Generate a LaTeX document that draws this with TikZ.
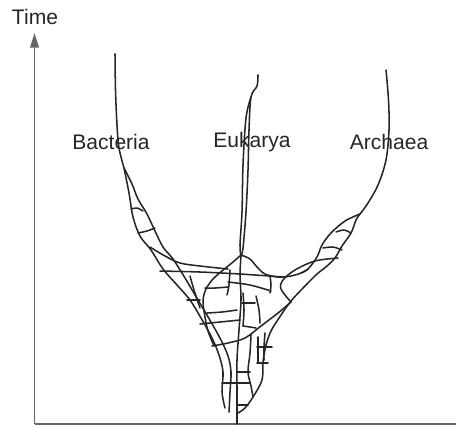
\documentclass[tikz,border=0pt]{standalone}
\usepackage{fontspec}
\setmainfont{Liberation Sans}
\usetikzlibrary{arrows.meta}
\definecolor{ink}{HTML}{262626}
\definecolor{axisgray}{HTML}{666666}
\tikzset{
  ln/.style={draw=ink,line width=1.15pt,line cap=round,line join=round},
  axisline/.style={draw=axisgray,line width=1.3pt},
  lbl/.style={text=ink,font=\fontsize{15.8}{18}\selectfont,inner sep=0pt},
}
\newcommand{\sk}[1]{\draw[ln] plot[smooth,tension=0.55] coordinates {#1};}
\begin{document}
\begin{tikzpicture}[x=0.75pt,y=-0.75pt]
\useasboundingbox (0,0) rectangle (456,426);
% axes
\coordinate (orig) at (34.5,424);
\coordinate (ttop) at (34.5,33);
\coordinate (xend) at (456,424);
\draw[axisline,-{Stealth[length=11pt,width=6.5pt,inset=0pt]}] (orig) -- (ttop);
\draw[axisline] (orig) -- (xend);
% labels
\node[lbl] (time) at (35,17) {Time};
\node[lbl] (bac) at (111,142) {Bacteria};
\node[lbl] (euk) at (252,142) {Eukarya};
\node[lbl] (arc) at (389,142) {Archaea};
% Bacteria stem and braid
\sk{(115,54) (115.5,90) (117,125) (119,148) (124,168)}
\sk{(124,168) (129,193) (133,217) (140,236) (151,250) (163,269) (177,285) (190,300) (201,318) (212,338) (219,355) (223,372) (222,392) (225,408)}
\sk{(124,168) (132,184) (138,199) (147,214) (155,231) (163,247) (173,259) (185,278) (198,300) (211,322) (221,340) (228,356) (231,372) (230,392) (229,412)}
\sk{(131,209) (137,208) (143,211)}
\sk{(138,233) (147,231) (155,228)}
% top line across
\sk{(150,247) (165,256) (180,263) (200,266) (228,269)}
\sk{(160,271) (200,272) (240,274) (283,277)}
% Eukarya stem
\sk{(258,75) (257,86) (251,97) (249,130) (248,170) (246,212) (243,248) (241,256)}
\sk{(251,97) (246,118) (243,165) (242,212) (240,245) (241,256)}
% branches from peak
\sk{(241,255) (233,262) (222,271) (213,279) (206,289) (203,301) (205,317) (208,331) (214,346)}
\sk{(241,255) (250,259) (257,267) (265,274) (278,277) (291,276) (301,273) (308,269)}
\sk{(241,256) (240,275) (241,300) (239,330) (237,360) (237,390) (237,424)}
% Archaea stem and braid
\sk{(386,70) (388.5,100) (389,130) (386,160) (378,185) (368,203) (360,214)}
\sk{(360,214) (345,221) (331,233) (322,245) (317,257) (308,269) (301,273)}
\sk{(360,214) (356,220) (351,233) (342,246) (335,258) (327,266) (317,274) (305,286) (291,301) (279,318) (271,331) (266,345) (263,362) (262,380) (253,397) (245,408) (238,413)}
\sk{(336,232) (344,230) (351,233)}
\sk{(323,248) (333,247) (342,250)}
% loop and long diagonal
\sk{(338,258) (315,261) (295,270) (283,280) (281,289) (291,302)}
\sk{(212,346) (228,343) (245,338) (261,326) (278,313) (291,302)}
% centre lattice
\sk{(230,270) (229,285) (227,295)}
\sk{(205,288) (215,288) (228,287)}
\sk{(228,282) (250,285) (271,291)}
\sk{(270,276) (271,285) (270,293)}
\sk{(207,313) (222,312) (237,310)}
\sk{(200,324) (220,322) (240,320)}
\sk{(187,300) (200,300)}
\sk{(242,303) (249,303) (255,303)}
\sk{(243,293) (244,310) (243,326)}
\sk{(243,326) (250,327) (256,328)}
\sk{(256,296) (259,310) (260,323)}
\sk{(190,276) (194,290) (200,308)}
% bottom lattice
\sk{(222,383) (237,383) (250,383)}
\sk{(237,372) (250,372)}
\sk{(251,335) (250,353) (248,372) (251,386) (253,397)}
\sk{(258,337) (258,350) (258,363)}
\sk{(265,333) (264,347) (264,360)}
\sk{(257,347) (265,347) (272,347)}
\sk{(257,363) (262,363) (268,363)}
\sk{(238,405) (243,405) (248,405)}
\end{tikzpicture}
\end{document}
